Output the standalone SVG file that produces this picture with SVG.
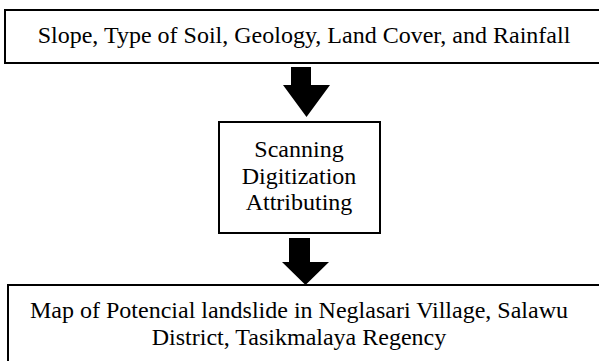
<svg xmlns="http://www.w3.org/2000/svg" width="599" height="361" viewBox="0 0 599 361">
<style>
.box{fill:#fff;stroke:#000;stroke-width:2}
.t{font-family:'Liberation Serif','Times New Roman',serif;font-size:24px;fill:#000;text-anchor:middle}
.arr{fill:#000}
</style>
<rect width="599" height="361" fill="#fff"/>
<g id="inputs">
<rect class="box" x="5" y="10" width="600" height="53"/>
<text class="t" x="304" y="43" font-family="Liberation Serif">Slope, Type of Soil, Geology, Land Cover, and Rainfall</text>
</g>
<g id="process">
<rect class="box" x="219" y="122" width="161" height="111"/>
<text class="t" x="299" y="157" font-family="Liberation Serif">Scanning</text>
<text class="t" x="299" y="184" font-family="Liberation Serif">Digitization</text>
<text class="t" x="299" y="210" font-family="Liberation Serif">Attributing</text>
</g>
<g id="output">
<rect class="box" x="8" y="285" width="600" height="90"/>
<text class="t" x="299" y="318" font-family="Liberation Serif">Map of Potencial landslide in Neglasari Village, Salawu</text>
<text class="t" x="299" y="345" font-family="Liberation Serif">District, Tasikmalaya Regency</text>
</g>
<g id="connectors">
<polygon class="arr" points="291,67 311,67 311,85 330,85 306.5,117 283,85 291,85"/>
<polygon class="arr" points="289,238 310,238 310,262 329,262 305.5,285 282,262 289,262"/>
</g>
</svg>
